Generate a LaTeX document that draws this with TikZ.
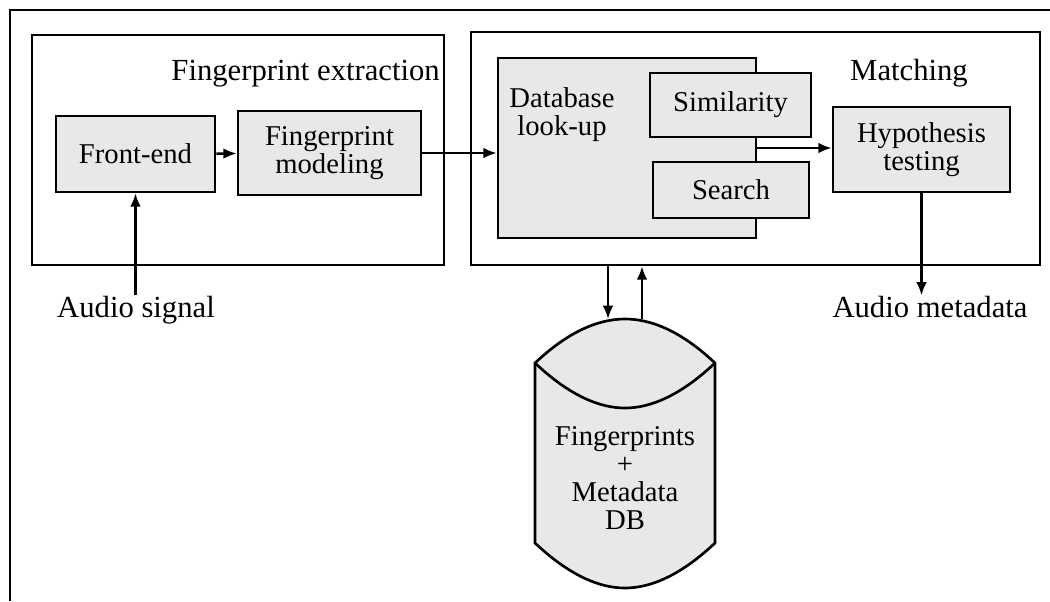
\documentclass[tikz,border=0pt]{standalone}
\usepackage{fontspec}
\setmainfont{Liberation Serif}
\usepackage{tikz}
\usetikzlibrary{arrows.meta,positioning}

\begin{document}
\begin{tikzpicture}[
        x=0.75pt, y=-0.75pt,
        font=\fontsize{21.5pt}{21pt}\selectfont,
        group/.style={draw, line width=2pt, fill=white, inner sep=0pt},
        blk/.style={draw, line width=2pt, fill=black!9, align=center, inner sep=2pt},
        lbl/.style={font=\fontsize{23pt}{24pt}\selectfont, inner sep=0pt},
        line/.style={-{Latex[length=10pt,width=8pt]}, line width=1.8pt}
    ]
        \useasboundingbox (0,0) rectangle (1050,601);
        % outer frame (only top and left are visible)
        \draw[line width=1.8pt] (10,601) -- (10,10) -- (1050,10);

        % fingerprint extraction
        \node[group, minimum width=309pt, minimum height=172.5pt] (fpx) at (238,150) {};
        \node[lbl, anchor=base east] (fpxlbl) at (440,80) {Fingerprint extraction};
        \node[blk, minimum width=119.25pt, minimum height=57pt] (fe) at (135.5,154) {Front-end};
        \node[blk, minimum width=137.25pt, minimum height=63pt] (fpm) at (329.5,153) {Fingerprint\\modeling};

        % matching
        \node[group, minimum width=426.75pt, minimum height=174.75pt] (match) at (755.5,148.5) {};
        \node[lbl, anchor=base] (matchlbl) at (909,80) {Matching};
        \node[blk, minimum width=193.5pt, minimum height=135pt] (dbl) at (627,148) {};
        \node[align=center, inner sep=0pt] (dbllbl) at (562,115) {Database\\look-up};
        \node[blk, minimum width=120.75pt, minimum height=48pt] (sim) at (730.5,105) {Similarity};
        \node[blk, minimum width=117pt, minimum height=42pt] (search) at (731,190) {Search};
        \node[blk, minimum width=132.75pt, minimum height=63.75pt] (hyp) at (921.5,149.5) {Hypothesis\\testing};

        % inputs and outputs
        \node[lbl, anchor=base] (sig) at (136,317) {Audio signal};
        \node[lbl, anchor=base] (meta) at (930,317) {Audio metadata};

        % database
        \draw[line width=2pt, fill=black!9]
            (535,363) .. controls (570,330) and (600,319) .. (625,319)
            .. controls (650,319) and (680,330) .. (715,363)
            -- (715,543) .. controls (680,576) and (650,588) .. (625,588)
            .. controls (600,588) and (570,576) .. (535,543) -- cycle;
        \draw[line width=2pt] (535,363) .. controls (570,396) and (600,408) .. (625,408)
            .. controls (650,408) and (680,396) .. (715,363);
        \node[align=center, inner sep=0pt] (db) at (625,478) {Fingerprints\\+\\Metadata\\DB};
        \coordinate (din) at (608,319);
        \coordinate (dout) at (642,319);

        \draw[line] (fe) -- (fpm);
        \draw[line] (fpm.east) -- (dbl.west |- fpm.east);
        \draw[line] (dbl.east) -- (hyp.west |- dbl.east);
        \draw[line] (fe |- sig.north) -- (fe);
        \draw[line] (hyp) -- (hyp |- meta.north);
        \draw[line] (match.south -| din) -- (din);
        \draw[line] (dout) -- (match.south -| dout);
    \end{tikzpicture}
\end{document}
